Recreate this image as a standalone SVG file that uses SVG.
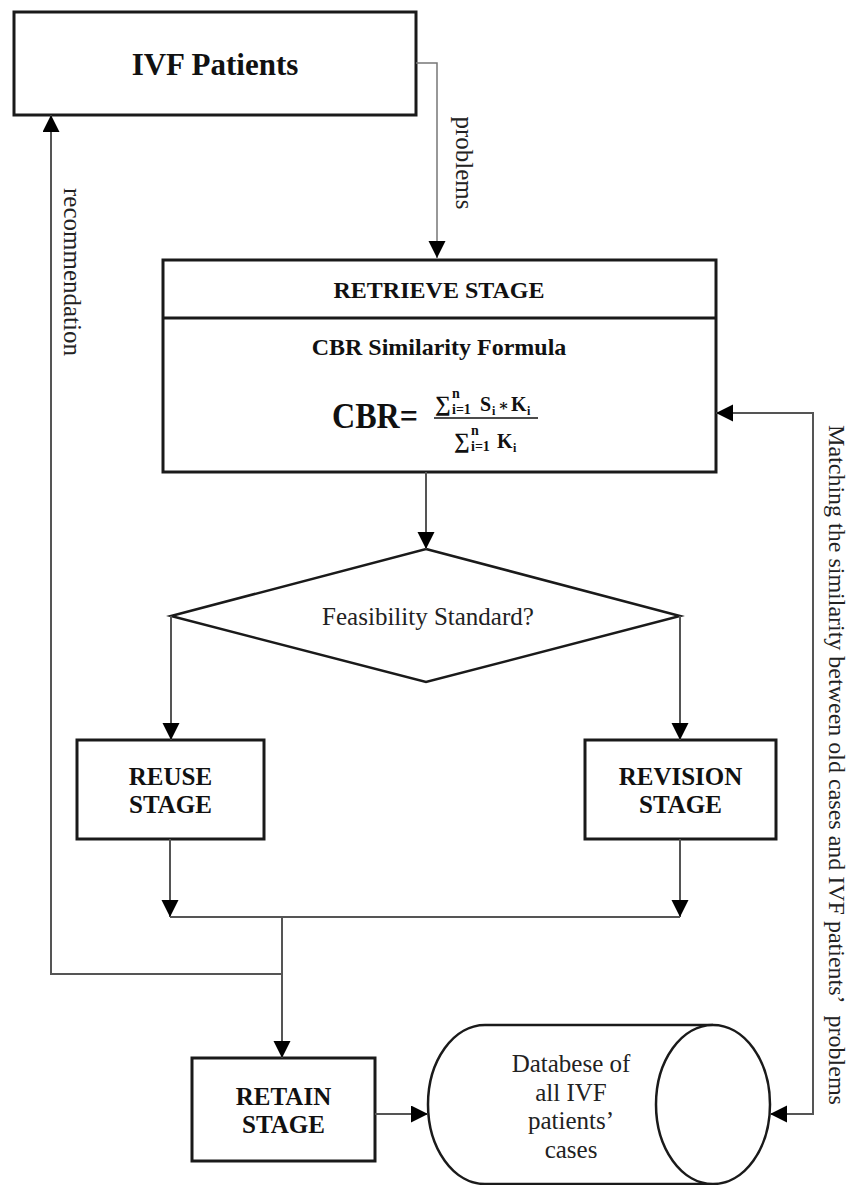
<svg xmlns="http://www.w3.org/2000/svg" width="852" height="1185" viewBox="0 0 852 1185">
<style>
.box{fill:#fff;stroke:#1a1a1a;stroke-width:3}
.shape{fill:#fff;stroke:#1a1a1a;stroke-width:2.5}
.conn{fill:none;stroke:#555;stroke-width:2}
.thin{fill:none;stroke:#777;stroke-width:1.5}
.b{font-family:"Liberation Serif","Times New Roman",serif;font-weight:bold;fill:#111}
.r{font-family:"Liberation Serif","Times New Roman",serif;fill:#222}
.m{font-family:"Liberation Serif","DejaVu Serif",serif;font-weight:bold;fill:#111}
.c{text-anchor:middle}
</style>
<defs>
<marker id="arr" markerUnits="userSpaceOnUse" markerWidth="18" markerHeight="18" refX="17" refY="8.5" orient="auto-start-reverse">
<path d="M0,0 L17,8.5 L0,17 z" fill="#000"/>
</marker>
</defs>

<g id="ivf-patients">
<rect class="box" x="14" y="12" width="402" height="103"/>
<text class="b c" x="215" y="75" font-size="31">IVF Patients</text>
</g>

<g id="retrieve-stage">
<rect class="box" x="163" y="260" width="553" height="212"/>
<line x1="163" y1="318" x2="716" y2="318" stroke="#1a1a1a" stroke-width="3"/>
<text class="b c" x="439" y="298" font-size="24">RETRIEVE STAGE</text>
<text class="b c" x="439" y="355" font-size="24">CBR Similarity Formula</text>
<text class="m" x="332" y="428" font-size="35" textLength="86" lengthAdjust="spacingAndGlyphs">CBR=</text>
<text class="m" x="435" y="411" font-size="22">∑</text>
<text class="m" x="452" y="398" font-size="14">n</text>
<text class="m" x="452" y="414" font-size="14">i=1</text>
<text class="m" x="480" y="411" font-size="20">S</text>
<text class="m" x="492" y="415" font-size="12">i</text>
<text class="m" x="498" y="411" font-size="16">∗</text>
<text class="m" x="511" y="411" font-size="20">K</text>
<text class="m" x="527" y="415" font-size="12">i</text>
<line x1="434" y1="418" x2="538" y2="418" stroke="#111" stroke-width="1.5"/>
<text class="m" x="454" y="448" font-size="22">∑</text>
<text class="m" x="471" y="435" font-size="14">n</text>
<text class="m" x="471" y="451" font-size="14">i=1</text>
<text class="m" x="497" y="448" font-size="20">K</text>
<text class="m" x="513" y="452" font-size="12">i</text>
</g>

<g id="feasibility">
<polygon class="shape" points="426,549 680,616 426,682 171,616"/>
<text class="r c" x="428" y="625" font-size="25">Feasibility Standard?</text>
</g>

<g id="reuse-stage">
<rect class="box" x="77" y="740" width="187" height="99"/>
<text class="b c" x="170.5" y="785" font-size="25">REUSE</text>
<text class="b c" x="170.5" y="813" font-size="25">STAGE</text>
</g>

<g id="revision-stage">
<rect class="box" x="585" y="740" width="191" height="99"/>
<text class="b c" x="680.5" y="785" font-size="25">REVISION</text>
<text class="b c" x="680.5" y="813" font-size="25">STAGE</text>
</g>

<g id="retain-stage">
<rect class="box" x="192" y="1058" width="183" height="103"/>
<text class="b c" x="283.5" y="1105" font-size="25">RETAIN</text>
<text class="b c" x="283.5" y="1133" font-size="25">STAGE</text>
</g>

<g id="database">
<path class="shape" d="M713,1025 L485,1025 A57,79.5 0 0 0 485,1184 L713,1184"/>
<ellipse class="shape" cx="713" cy="1104.5" rx="57" ry="79.5"/>
<text class="r c" x="571" y="1072" font-size="25">Databese of</text>
<text class="r c" x="571" y="1101" font-size="25">all IVF</text>
<text class="r c" x="571" y="1129" font-size="25">patients’</text>
<text class="r c" x="571" y="1158" font-size="25">cases</text>
</g>

<g id="connectors">
<path class="thin" d="M416,63 L437,63 L437,258" marker-end="url(#arr)"/>
<path class="conn" d="M426,472 L426,549" marker-end="url(#arr)"/>
<path class="conn" d="M171,616 L171,740" marker-end="url(#arr)"/>
<path class="conn" d="M680,616 L680,740" marker-end="url(#arr)"/>
<path class="conn" d="M170,839 L170,917" marker-end="url(#arr)"/>
<path class="conn" d="M680,839 L680,917" marker-end="url(#arr)"/>
<path class="conn" d="M170,917 L680,917"/>
<path class="conn" d="M282,917 L282,1058" marker-end="url(#arr)"/>
<path class="conn" d="M282,974 L51,974 L51,115" marker-end="url(#arr)"/>
<path class="conn" d="M375,1114 L428,1114" marker-end="url(#arr)"/>
<path class="conn" d="M770,1114 L813,1114 L813,413 L716,413" marker-start="url(#arr)" marker-end="url(#arr)"/>
<text class="r c" x="0" y="0" font-size="25" transform="translate(456,163) rotate(90)">problems</text>
<text class="r c" x="0" y="0" font-size="25" transform="translate(64,272) rotate(90)">recommendation</text>
<text class="r c" x="0" y="0" font-size="24" transform="translate(829,765) rotate(90)">Matching the similarity between old cases and IVF patients’&#160; problems</text>
</g>
</svg>
